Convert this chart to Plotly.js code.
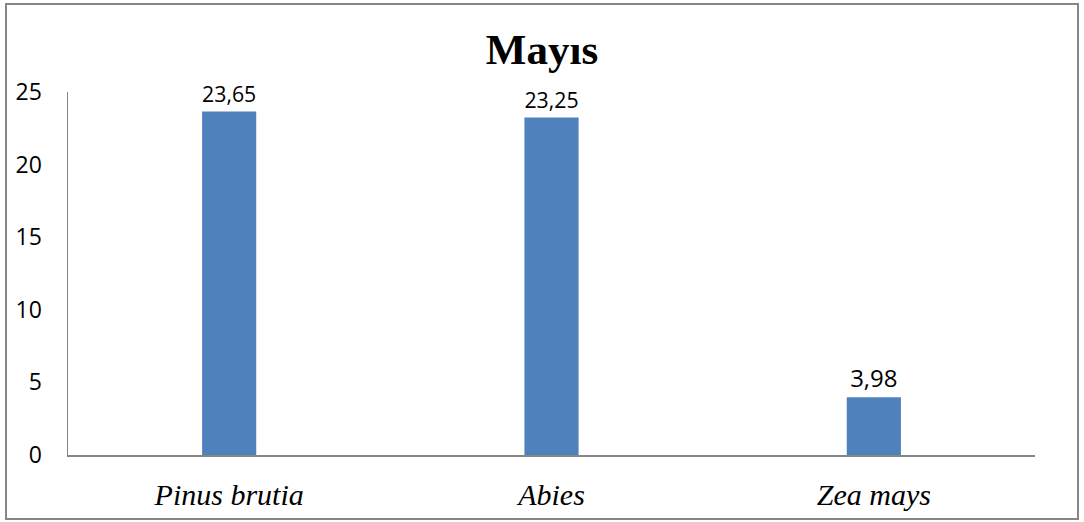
<!DOCTYPE html>
<html>
<head>
<meta charset="utf-8">
<script src="https://cdn.plot.ly/plotly-3.0.1.min.js"></script>
<style>
html,body{margin:0;padding:0;background:#fff;}
#chart{width:1084px;height:522px;}
</style>
</head>
<body>
<div id="chart"></div>
<script>
const categories = ['Pinus brutia', 'Abies', 'Zea mays'];
const values = [23.65, 23.25, 3.98];
const valueLabels = ['23,65', '23,25', '3,98'];
const yTicks = [0, 5, 10, 15, 20, 25];

const trace = {
  type: 'bar',
  x: categories,
  y: values,
  text: valueLabels,
  textposition: 'outside',
  textfont: {family: 'Open Sans, sans-serif', size: 24, color: '#000'},
  marker: {color: '#4F81BD', line: {width: 0}},
  width: 0.168,
  cliponaxis: false,
  hoverinfo: 'none'
};

const layout = {
  width: 1084,
  height: 522,
  margin: {l: 68, r: 49, t: 92, b: 67},
  paper_bgcolor: '#fff',
  plot_bgcolor: '#fff',
  showlegend: false,
  title: {
    text: '<b>Mayıs</b>',
    font: {family: 'Liberation Serif, Times New Roman, serif', size: 43, color: '#000'},
    x: 0.5, xanchor: 'center',
    y: 1 - 49/522, yanchor: 'middle'
  },
  xaxis: {
    type: 'category',
    showline: true, linecolor: '#868686', linewidth: 1.5,
    showgrid: false, zeroline: false, ticks: '',
    ticklabelstandoff: 12,
    tickfont: {family: 'Liberation Serif, Times New Roman, serif', size: 30, color: '#000', style: 'italic'},
    fixedrange: true
  },
  yaxis: {
    range: [0, 25],
    tickvals: yTicks,
    ticktext: yTicks.map(String),
    showline: true, linecolor: '#868686', linewidth: 1.5,
    showgrid: false, zeroline: false, ticks: '',
    ticklabelstandoff: 20,
    tickfont: {family: 'Open Sans, sans-serif', size: 23, color: '#000'},
    fixedrange: true
  },
  shapes: [{
    type: 'rect', xref: 'paper', yref: 'paper', layer: 'below',
    x0: (6-68)/967, x1: (1078-68)/967,
    y0: (455-519)/363, y1: (455-4)/363,
    line: {color: '#868686', width: 2},
    fillcolor: 'rgba(0,0,0,0)'
  }]
};

Plotly.newPlot('chart', [trace], layout, {displayModeBar: false, staticPlot: true});
</script>
</body>
</html>
